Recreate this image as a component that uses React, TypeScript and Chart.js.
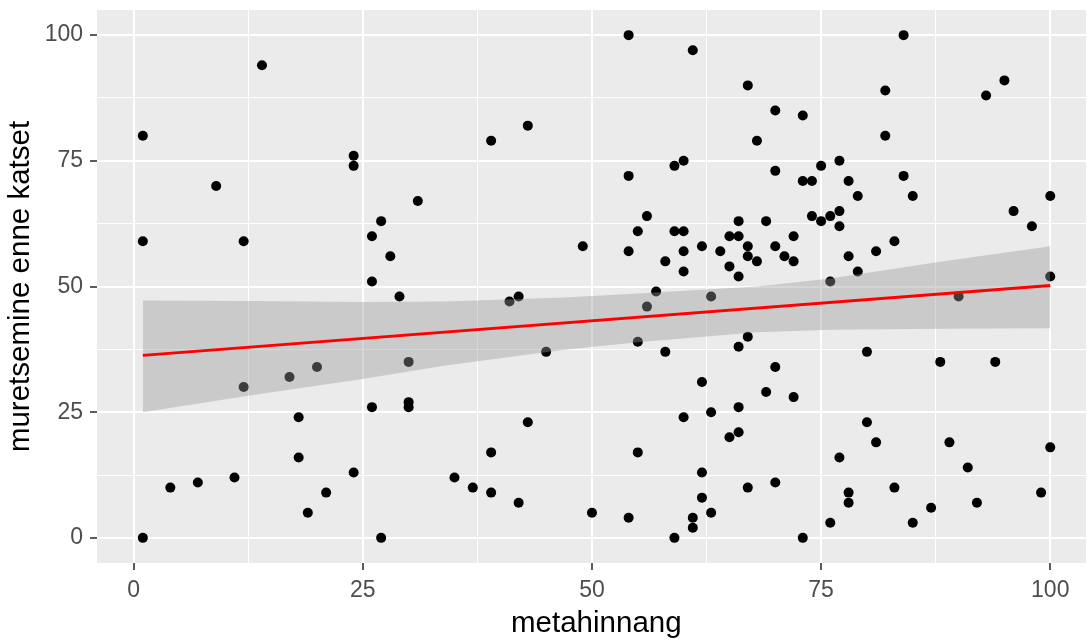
import React, { useEffect, useRef } from 'react';
import { Chart, registerables } from 'chart.js';

Chart.register(...registerables);

// scatter points: metahinnang (x) vs muretsemine enne katset (y)
const pointX = [
  14, 1, 24, 24, 9, 31, 27, 1, 12, 26, 28, 26, 29, 12, 17, 20, 30, 26, 30, 30, 18, 18, 11, 4, 7, 24, 21, 19, 1, 27,
  54, 61, 67, 43, 39, 68, 60, 59, 54, 56, 55, 59, 60, 49, 54, 58, 60, 60, 62, 64, 65, 66, 66, 69, 67, 67, 68, 65, 66, 57,
  63, 41, 42, 56, 45, 55, 58, 67, 66, 62, 69, 60, 63, 66, 65, 66, 43, 39, 55, 35, 37, 39, 42, 50, 54, 62, 62, 63, 61, 61,
  59, 67,
  84, 82, 93, 95, 70, 73, 82, 70, 75, 77, 73, 74, 78, 79, 84, 85, 70, 71, 72, 72, 74, 75, 76, 77, 77, 78, 79, 81, 83, 76,
  96, 98, 100, 100, 90, 70, 72, 80, 88, 94, 80, 81, 89, 91, 100, 77, 70, 78, 78, 83, 87, 92, 99, 76, 85, 73,
];
const pointY = [
  94, 80, 76, 74, 70, 67, 63, 59, 59, 60, 56, 51, 48, 30, 32, 34, 35, 26, 27, 26, 24, 16, 12, 10, 11, 13, 9, 5, 0, 0,
  100, 97, 90, 82, 79, 79, 75, 74, 72, 64, 61, 61, 61, 58, 57, 55, 57, 53, 58, 57, 60, 60, 63, 63, 58, 56, 55, 54, 52, 49,
  48, 47, 48, 46, 37, 39, 37, 40, 38, 31, 29, 24, 25, 26, 20, 21, 23, 17, 17, 12, 10, 9, 7, 5, 4, 13, 8, 5, 4, 2,
  0, 10,
  100, 89, 88, 91, 85, 84, 80, 73, 74, 75, 71, 71, 71, 68, 72, 68, 58, 56, 55, 60, 64, 63, 64, 65, 62, 56, 53, 57, 59, 51,
  65, 62, 68, 52, 48, 34, 28, 37, 35, 35, 23, 19, 19, 14, 18, 16, 11, 9, 7, 10, 6, 7, 9, 3, 3, 0,
];

// linear fit (geom_smooth, method = "lm") and its confidence band
const fitX = [1, 100];
const fitY = [36.3, 50.2];
const bandX = [1, 13, 25, 34, 47, 55, 68, 76, 88, 100];
const bandUpper = [47.2, 47.1, 46.9, 47.0, 47.8, 48.6, 50.0, 51.6, 54.9, 58.0];
const bandLower = [25.0, 28.4, 31.6, 34.3, 37.4, 38.9, 40.9, 41.4, 41.6, 41.7];

const majorTicks = [0, 25, 50, 75, 100];
const minorTicks = [12.5, 37.5, 62.5, 87.5];
const xTitle = 'metahinnang';
const yTitle = 'muretsemine enne katset';

const FONT = '"Liberation Sans", Arial, Helvetica, sans-serif';

export default function App() {
  const ref = useRef<HTMLCanvasElement>(null);

  useEffect(() => {
    document.body.style.margin = '0';
    const canvas = ref.current;
    if (!canvas) return;

    const allTicks = [...majorTicks, ...minorTicks].sort((a, b) => a - b);
    const isMajor = (v: number) => majorTicks.includes(v);

    const panelBg = {
      id: 'panelBg',
      beforeDraw(chart: any) {
        const { ctx, chartArea } = chart;
        if (!chartArea) return;
        ctx.save();
        ctx.fillStyle = '#EBEBEB';
        ctx.fillRect(chartArea.left, chartArea.top, chartArea.right - chartArea.left, chartArea.bottom - chartArea.top);
        ctx.restore();
      },
    };

    // x-axis title: the reference panel runs past the right edge of the picture,
    // so the title is centred on the full (uncropped) panel width
    const xTitlePlugin = {
      id: 'xTitle',
      afterDraw(chart: any) {
        const { ctx, chartArea } = chart;
        const xs = chart.scales.x;
        const fullRight = xs.getPixelForValue(104.95);
        ctx.save();
        ctx.fillStyle = '#000000';
        ctx.font = `29.5px ${FONT}`;
        ctx.textAlign = 'center';
        ctx.textBaseline = 'middle';
        ctx.fillText(xTitle, (chartArea.left + fullRight) / 2, 624);
        ctx.restore();
      },
    };

    const baseScale = (title: string, showTitle: boolean, titlePadding: any, size: { w?: number; h?: number }, min: number, max: number) => ({
      type: 'linear' as const,
      min,
      max,
      afterBuildTicks: (s: any) => {
        s.ticks = allTicks.map((v) => ({ value: v }));
      },
      afterFit: (s: any) => {
        if (size.w !== undefined) s.width = size.w;
        if (size.h !== undefined) s.height = size.h;
        s.paddingLeft = 0;
        s.paddingRight = 0;
        s.paddingTop = 0;
        s.paddingBottom = 0;
      },
      border: { display: false },
      grid: {
        color: '#FFFFFF',
        lineWidth: (c: any) => (c.tick && isMajor(c.tick.value) ? 2 : 1),
        tickColor: (c: any) => (c.tick && isMajor(c.tick.value) ? '#333333' : 'rgba(0,0,0,0)'),
        tickLength: 7,
        tickWidth: 1.6,
        drawTicks: true,
      },
      ticks: {
        autoSkip: false,
        maxRotation: 0,
        minRotation: 0,
        padding: 7,
        color: '#4D4D4D',
        font: { family: FONT, size: 23 },
        callback: (v: any) => (isMajor(Number(v)) ? String(v) : ''),
      },
      title: {
        display: showTitle,
        text: title,
        color: '#000000',
        font: { family: FONT, size: 29.5, lineHeight: 1 },
        padding: titlePadding,
      },
    });

    const chart = new Chart(canvas, {
      type: 'scatter',
      data: {
        datasets: [
          {
            type: 'line',
            data: fitX.map((x, i) => ({ x, y: fitY[i] })),
            borderColor: '#FF0000',
            borderWidth: 3,
            pointRadius: 0,
            fill: false,
            order: 0,
          } as any,
          {
            type: 'line',
            data: bandX.map((x, i) => ({ x, y: bandUpper[i] })),
            borderColor: 'rgba(0,0,0,0)',
            borderWidth: 0,
            pointRadius: 0,
            backgroundColor: 'rgba(153,153,153,0.4)',
            fill: '+1',
            order: 1,
          } as any,
          {
            type: 'line',
            data: bandX.map((x, i) => ({ x, y: bandLower[i] })),
            borderColor: 'rgba(0,0,0,0)',
            borderWidth: 0,
            pointRadius: 0,
            fill: false,
            order: 1,
          } as any,
          {
            type: 'scatter',
            data: pointX.map((x, i) => ({ x, y: pointY[i] })),
            backgroundColor: '#000000',
            borderWidth: 0,
            pointRadius: 5,
            order: 2,
          } as any,
        ],
      },
      options: {
        responsive: false,
        animation: false,
        events: [],
        layout: { padding: { top: 10, right: 0, bottom: 0, left: 0 } },
        plugins: {
          legend: { display: false },
          tooltip: { enabled: false },
        },
        scales: {
          x: baseScale(xTitle, false, { top: 0, bottom: 1.5 }, { h: 77 }, -4, 103.9) as any,
          y: baseScale(yTitle, true, { top: 6, bottom: 0 }, { w: 97 }, -5, 105) as any,
        },
      },
      plugins: [panelBg, xTitlePlugin],
    });

    return () => chart.destroy();
  }, []);

  return <canvas ref={ref} width={1091} height={640} style={{ display: 'block' }} />;
}
